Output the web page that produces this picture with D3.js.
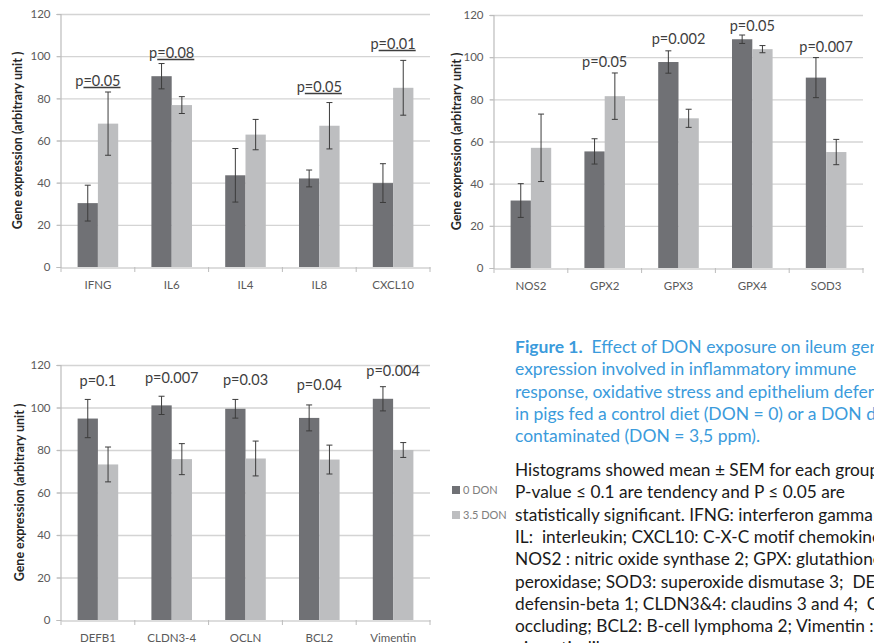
<!DOCTYPE html>
<html>
<head>
<meta charset="utf-8">
<script src="https://cdn.jsdelivr.net/npm/d3@7"></script>
<style>
  html, body { margin: 0; padding: 0; background: #fff; }
  svg { display: block; }
  .cap text { white-space: pre; }
</style>
</head>
<body>
<svg id="fig" width="874" height="643"></svg>
<script>
// ---------------- DATA ----------------
const yTicks = [0, 20, 40, 60, 80, 100, 120];
const seriesNames = ["0 DON", "3.5 DON"];

// Panel A: inflammatory immune response
const catsA = ["IFNG", "IL6", "IL4", "IL8", "CXCL10"];
const don0A = [30.3, 90.5, 43.5, 42, 39.8];
const sem0A = [8.5, 6, 12.7, 4, 9.2];
const don35A = [68, 76.8, 62.8, 67, 85];
const sem35A = [15, 4, 7.2, 11, 13];
const pTextA = ["p=0.05", "p=0.08", null, "p=0.05", "p=0.01"];
const pAtA = [88.2, 101.5, null, 85.4, 105.8];
const pUnderlineA = true;

// Panel B: oxidative stress
const catsB = ["NOS2", "GPX2", "GPX3", "GPX4", "SOD3"];
const don0B = [32, 55.3, 97.7, 108.5, 90.3];
const sem0B = [8, 6, 5.3, 2, 9.5];
const don35B = [57, 81.5, 71, 103.8, 55];
const sem35B = [16, 11, 4.3, 1.7, 6];
const pTextB = [null, "p=0.05", "p=0.002", "p=0.05", "p=0.007"];
const pAtB = [null, 97.9, 108.6, 114.8, 105];

// Panel C: epithelium defense
const catsC = ["DEFB1", "CLDN3-4", "OCLN", "BCL2", "Vimentin"];
const don0C = [94.8, 101, 99.4, 95.1, 104.1];
const sem0C = [9, 4.3, 4.4, 6.1, 5.7];
const don35C = [73.2, 75.7, 76, 75.5, 80];
const sem35C = [8.2, 7.3, 8.2, 6.8, 3.5];
const pTextC = ["p=0.1", "p=0.007", "p=0.03", "p=0.04", "p=0.004"];
const pAtC = [112.6, 113.7, 113, 110.6, 117];

const yTitle = "Gene expression (arbitrary unit )";

const captionTitle = "Figure 1.";
const captionBlue = [
  " Effect of DON exposure on ileum gene",
  "expression involved in inflammatory immune",
  "response, oxidative stress and epithelium defense",
  "in pigs fed a control diet (DON = 0) or a DON diet",
  "contaminated (DON = 3,5 ppm)."
];
const captionBlack = [
  "Histograms showed mean \u00B1 SEM for each group;",
  "P-value \u2264 0.1 are tendency and P \u2264 0.05 are",
  "statistically significant. IFNG: interferon gamma;",
  "IL:  interleukin; CXCL10: C-X-C motif chemokine 10;",
  "NOS2 : nitric oxide synthase 2; GPX: glutathione",
  "peroxidase; SOD3: superoxide dismutase 3;  DEFB1:",
  "defensin-beta 1; CLDN3&4: claudins 3 and 4;  OCLN:",
  "occluding; BCL2: B-cell lymphoma 2; Vimentin :",
  "vimentin-like"
];

// ---------------- STYLE ----------------
const FONT = "Lato, 'Open Sans', sans-serif";
const DARK = "#707175";
const LIGHT = "#bdbec0";
const GRID = "#d4d4d4";
const AXIS = "#bcbcbc";
const ERR = "#3c3c3c";
const TICKTXT = "#5a5a5a";

const svg = d3.select("#fig");

function panel(opts) {
  const { cats, d0, s0, d35, s35, pText, pAt, underline, x0, x1, yTop, yBot, titleX } = opts;
  const g = svg.append("g");
  const x = d3.scaleBand().domain(cats).range([x0, x1]).padding(0);
  const xs = d3.scaleBand().domain([0, 1]).range([x.bandwidth() * 0.225, x.bandwidth() * 0.775]).padding(0);
  const y = d3.scaleLinear().domain([0, 120]).range([yBot, yTop]);

  // gridlines
  g.selectAll("line.grid").data(yTicks.filter(t => t > 0)).join("line")
    .attr("x1", x0 - 4).attr("x2", x1).attr("y1", d => y(d) + 0.5).attr("y2", d => y(d) + 0.5)
    .attr("stroke", GRID).attr("stroke-width", 1.3);

  // y axis
  const ya = g.append("g").attr("transform", `translate(${x0 - 0.5},0)`)
    .call(d3.axisLeft(y).tickValues(yTicks).tickSize(4).tickPadding(6));
  ya.select(".domain").attr("stroke", AXIS).attr("stroke-width", 1.2);
  ya.selectAll(".tick line").attr("stroke", AXIS);
  ya.selectAll(".tick text").attr("fill", TICKTXT).attr("font-family", FONT).attr("font-size", 11.5);

  // x axis
  const xa = g.append("g").attr("transform", `translate(0,${yBot + 0.5})`)
    .call(d3.axisBottom(x).tickSize(0).tickPadding(13));
  xa.select(".domain").attr("stroke", AXIS).attr("stroke-width", 1.2);
  xa.selectAll(".tick text").attr("fill", TICKTXT).attr("font-family", FONT).attr("font-size", 11.5);
  // category separator ticks
  const seps = [cats[0]].concat(cats).map((c, i) => i === 0 ? x0 : x(cats[i - 1]) + x.bandwidth());
  g.selectAll("line.sep").data(seps).join("line")
    .attr("x1", d => d).attr("x2", d => d).attr("y1", yBot).attr("y2", yBot + 5)
    .attr("stroke", AXIS).attr("stroke-width", 1);

  // bars
  const rows = cats.map((c, i) => [
    { c, k: 0, v: d0[i], e: s0[i] },
    { c, k: 1, v: d35[i], e: s35[i] }
  ]).flat();
  g.selectAll("rect.bar").data(rows).join("rect")
    .attr("x", d => x(d.c) + xs(d.k))
    .attr("width", xs.bandwidth())
    .attr("y", d => y(d.v))
    .attr("height", d => y(0) - y(d.v))
    .attr("fill", d => d.k === 0 ? DARK : LIGHT);

  // error bars
  const eb = g.selectAll("g.err").data(rows).join("g")
    .attr("transform", d => `translate(${x(d.c) + xs(d.k) + xs.bandwidth() / 2},0)`);
  eb.append("line").attr("y1", d => y(d.v - d.e)).attr("y2", d => y(d.v + d.e))
    .attr("stroke", ERR).attr("stroke-width", 1);
  eb.append("line").attr("x1", -3).attr("x2", 3).attr("y1", d => y(d.v + d.e)).attr("y2", d => y(d.v + d.e))
    .attr("stroke", ERR).attr("stroke-width", 1);
  eb.append("line").attr("x1", -3).attr("x2", 3).attr("y1", d => y(d.v - d.e)).attr("y2", d => y(d.v - d.e))
    .attr("stroke", ERR).attr("stroke-width", 1);

  // p-value labels
  const pl = cats.map((c, i) => ({ c, t: pText[i], v: pAt[i] })).filter(d => d.t);
  const texts = g.selectAll("text.p").data(pl).join("text")
    .attr("x", d => x(d.c) + x.bandwidth() / 2)
    .attr("y", d => y(d.v))
    .attr("dy", "0.35em")
    .attr("text-anchor", "middle")
    .attr("font-family", FONT).attr("font-size", 14.5)
    .attr("fill", "#3e3e3e")
    .text(d => d.t);
  if (underline) {
    texts.each(function (d) {
      const bb = this.getBBox();
      const pw = this.getSubStringLength(0, 1);
      g.append("line")
        .attr("x1", bb.x + pw).attr("x2", bb.x + bb.width)
        .attr("y1", y(d.v) + 6.5).attr("y2", y(d.v) + 6.5)
        .attr("stroke", "#3e3e3e").attr("stroke-width", 1.6);
    });
  }

  // y title
  g.append("text")
    .attr("transform", `translate(${titleX},${(yTop + yBot) / 2}) rotate(-90)`)
    .attr("text-anchor", "middle").attr("dy", "0.35em")
    .attr("font-family", FONT).attr("font-weight", "bold").attr("font-size", 12.5)
    .attr("fill", "#262626")
    .text(yTitle);
}

panel({ cats: catsA, d0: don0A, s0: sem0A, d35: don35A, s35: sem35A, pText: pTextA, pAt: pAtA,
  underline: pUnderlineA, x0: 61, x1: 430, yTop: 14, yBot: 267, titleX: 18 });
panel({ cats: catsB, d0: don0B, s0: sem0B, d35: don35B, s35: sem35B, pText: pTextB, pAt: pAtB,
  underline: false, x0: 494, x1: 863, yTop: 15, yBot: 268, titleX: 457 });
panel({ cats: catsC, d0: don0C, s0: sem0C, d35: don35C, s35: sem35C, pText: pTextC, pAt: pAtC,
  underline: false, x0: 61, x1: 430, yTop: 365, yBot: 620, titleX: 20 });

// legend
const leg = svg.append("g");
seriesNames.forEach((n, i) => {
  const gy = 490 + i * 25;
  leg.append("rect").attr("x", 452).attr("y", gy - 4).attr("width", 8).attr("height", 8)
    .attr("fill", i === 0 ? DARK : LIGHT);
  leg.append("text").attr("x", 463).attr("y", gy).attr("dy", "0.35em")
    .attr("font-family", FONT).attr("font-size", 11).attr("fill", "#7e7e7e")
    .text(n);
});

// caption
const cap = svg.append("g").attr("class", "cap").attr("font-family", FONT);
captionBlue.forEach((line, i) => {
  const t = cap.append("text").attr("x", 515).attr("y", 353 + i * 22.3)
    .attr("font-size", 17.5).attr("fill", "#3b9bdc");
  if (i === 0) {
    t.append("tspan").attr("font-weight", "bold").text(captionTitle);
    t.append("tspan").text(" " + line);
  } else {
    t.text(line);
  }
});
captionBlack.forEach((line, i) => {
  cap.append("text").attr("x", 515).attr("y", 476 + i * 22.3)
    .attr("font-size", 17.3).attr("fill", "#1a1a1a")
    .text(line);
});
</script>
</body>
</html>
